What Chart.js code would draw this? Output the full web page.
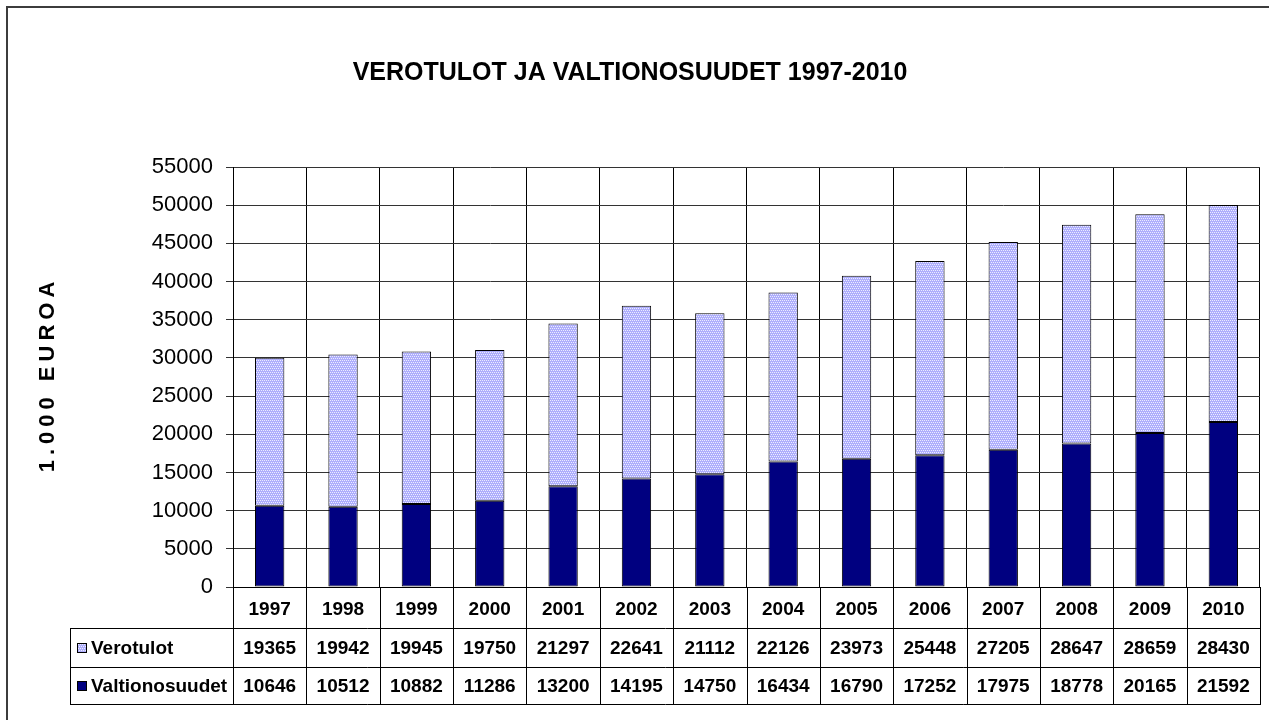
<!DOCTYPE html>
<html>
<head>
<meta charset="utf-8">
<script src="https://cdn.jsdelivr.net/npm/chart.js@4/dist/chart.umd.min.js"></script>
<style>
  html, body { margin: 0; padding: 0; background: #fff; overflow: hidden; }
  #frame { position: absolute; left: 6px; top: 6px; width: 1300px; height: 800px; border: 2px solid #3c3c3c; box-sizing: border-box; }
  #c { position: absolute; left: 0; top: 0; }
</style>
</head>
<body>
<div id="frame"></div>
<canvas id="c" width="1269" height="720"></canvas>
<script>
const titleText = 'VEROTULOT JA VALTIONOSUUDET 1997-2010';
const yAxisTitle = '1.000 EUROA';
const years = ['1997','1998','1999','2000','2001','2002','2003','2004','2005','2006','2007','2008','2009','2010'];
const verotulot = [19365,19942,19945,19750,21297,22641,21112,22126,23973,25448,27205,28647,28659,28430];
const valtionosuudet = [10646,10512,10882,11286,13200,14195,14750,16434,16790,17252,17975,18778,20165,21592];
const yTicksMax = 55000;
const yTicksStep = 5000;

// dotted light pattern for Verotulot
function makePattern() {
  const p = document.createElement('canvas');
  p.width = 4; p.height = 4;
  const g = p.getContext('2d');
  g.fillStyle = '#aeaefc';
  g.fillRect(0, 0, 4, 4);
  g.fillStyle = '#ececff';
  [[0,0],[2,0],[1,2],[3,2]].forEach(([x,y]) => g.fillRect(x, y, 1, 1));
  return g.createPattern(p, 'repeat');
}
const patt = makePattern();
const navy = '#000080';

const tablePlugin = {
  id: 'dataTable',
  afterDraw(chart) {
    const ctx = chart.ctx;
    const xs = chart.scales.x;
    const area = chart.chartArea;
    const top = area.bottom;
    const r1 = top + 41, r2 = top + 80, r3 = top + 117;
    const leftX = 70;
    const n = years.length;
    const colW = (area.right - area.left) / n;
    ctx.save();
    ctx.strokeStyle = '#000';
    ctx.lineWidth = 1;
    ctx.beginPath();
    for (let i = 0; i <= n; i++) {
      const x = Math.round(area.left + i * colW) + 0.5;
      ctx.moveTo(x, top); ctx.lineTo(x, r3);
    }
    ctx.moveTo(leftX + 0.5, r1); ctx.lineTo(leftX + 0.5, r3);
    [r1, r2, r3].forEach(y => { ctx.moveTo(leftX, y + 0.5); ctx.lineTo(area.right + 1, y + 0.5); });
    ctx.stroke();

    ctx.font = 'bold 19px "Liberation Sans", Arial, sans-serif';
    ctx.fillStyle = '#000';
    ctx.textBaseline = 'middle';
    const rows = [
      { label: 'Verotulot', data: verotulot, fill: patt, y: (r1 + r2) / 2 },
      { label: 'Valtionosuudet', data: valtionosuudet, fill: navy, y: (r2 + r3) / 2 }
    ];
    rows.forEach(r => {
      ctx.fillStyle = r.fill;
      ctx.fillRect(77, Math.round(r.y) - 5, 10, 10);
      ctx.strokeStyle = '#000';
      ctx.strokeRect(77.5, Math.round(r.y) - 4.5, 9, 9);
      ctx.fillStyle = '#000';
      ctx.textAlign = 'left';
      ctx.fillText(r.label, 91, r.y + 1);
      ctx.textAlign = 'center';
      r.data.forEach((v, i) => {
        ctx.fillText(String(v), xs.getPixelForValue(i), r.y + 1);
      });
    });

    ctx.save();
    ctx.translate(48, 377);
    ctx.rotate(-Math.PI / 2);
    ctx.font = 'bold 22px "Liberation Sans", Arial, sans-serif';
    try { ctx.letterSpacing = '5px'; } catch (e) {}
    ctx.textAlign = 'center';
    ctx.textBaseline = 'middle';
    ctx.fillText(yAxisTitle, 2.5, 0);
    ctx.restore();
    ctx.restore();
  }
};

new Chart(document.getElementById('c'), {
  type: 'bar',
  data: {
    labels: years,
    datasets: [
      { label: 'Valtionosuudet', data: valtionosuudet, backgroundColor: navy, borderColor: '#000', borderWidth: 1, borderSkipped: false },
      { label: 'Verotulot', data: verotulot, backgroundColor: patt, borderColor: '#000', borderWidth: 1, borderSkipped: false }
    ]
  },
  options: {
    responsive: false,
    animation: false,
    devicePixelRatio: 1,
    layout: { padding: { left: 0, right: 9, top: 0, bottom: 0 } },
    datasets: { bar: { categoryPercentage: 1, barPercentage: 0.4 } },
    plugins: {
      legend: { display: false },
      tooltip: { enabled: false },
      title: {
        display: true,
        text: titleText,
        color: '#000',
        font: { family: '"Liberation Sans", Arial, sans-serif', size: 25, weight: 'bold' },
        padding: { top: 58, bottom: 79 }
      }
    },
    scales: {
      x: {
        stacked: true,
        offset: true,
        afterFit(s) { s.height = 133; },
        grid: { offset: true, color: '#000', lineWidth: 1, drawTicks: false, drawOnChartArea: true },
        border: { display: true, color: '#000', width: 1 },
        ticks: { color: '#000', padding: 11, font: { family: '"Liberation Sans", Arial, sans-serif', size: 19, weight: 'bold' } }
      },
      y: {
        stacked: true,
        min: 0,
        max: yTicksMax,
        afterFit(s) { s.width = 233; },
        grid: { color: '#333', lineWidth: 1, tickLength: 7, drawTicks: true },
        border: { display: true, color: '#000', width: 1 },
        ticks: { stepSize: yTicksStep, color: '#000', padding: 13, callback: v => String(v), font: { family: '"Liberation Sans", Arial, sans-serif', size: 22 } }
      }
    }
  },
  plugins: [tablePlugin]
});
</script>
</body>
</html>
